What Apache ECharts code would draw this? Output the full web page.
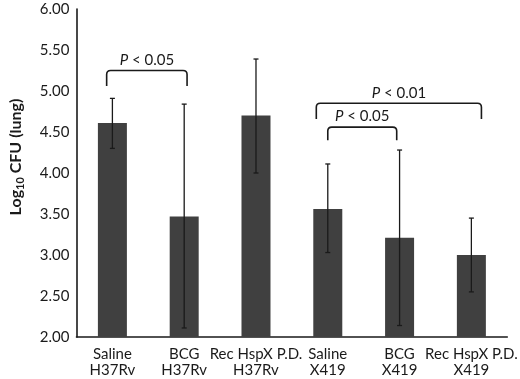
<!DOCTYPE html>
<html>
<head>
<meta charset="utf-8">
<script src="https://cdn.jsdelivr.net/npm/echarts@6/dist/echarts.min.js"></script>
<style>
  html,body{margin:0;padding:0;background:#fff;}
  #chart{width:520px;height:379px;}
</style>
</head>
<body>
<div id="chart"></div>
<script>
// groups and log10 CFU values
const categories = ["Saline\nH37Rv", "BCG\nH37Rv", "Rec HspX P.D.\nH37Rv", "Saline\nX419", "BCG\nX419", "Rec HspX P.D.\nX419"];
const means = [4.61, 3.47, 4.70, 3.56, 3.21, 3.00];
const errLow = [4.30, 2.11, 4.00, 3.03, 2.14, 2.55];
const errHigh = [4.91, 4.84, 5.39, 4.11, 4.28, 3.45];
const yTicks = {min: 2, max: 6, interval: 0.5};

// significance brackets: from / to in category units, top and leg end in y units
const bracketFrom = [-0.08, 2.84, 3.0];
const bracketTo = [1.04, 5.14, 3.96];
const bracketTop = [5.25, 4.85, 4.56];
const bracketLeg = [5.06, 4.66, 4.40];
const bracketText = ["0.05", "0.01", "0.05"];

const font = "Lato, 'Open Sans', sans-serif";
const ink = "#1a1a1a";

const chart = echarts.init(document.getElementById("chart"));

function errorItem(params, api){
  const x = api.value(0);
  const lo = api.coord([x, api.value(1)]);
  const hi = api.coord([x, api.value(2)]);
  const cap = 2.5;
  const st = {stroke: ink, lineWidth: 1.3, fill: null};
  return {
    type: "group",
    children: [
      {type: "line", shape: {x1: lo[0], y1: lo[1], x2: hi[0], y2: hi[1]}, style: st},
      {type: "line", shape: {x1: hi[0]-cap, y1: hi[1], x2: hi[0]+cap, y2: hi[1]}, style: st},
      {type: "line", shape: {x1: lo[0]-cap, y1: lo[1], x2: lo[0]+cap, y2: lo[1]}, style: st}
    ]
  };
}

function bracketItem(params, api){
  const band = api.size([1, 0])[0];
  const a = api.value(0), b = api.value(1);
  const ia = Math.round(a), ib = Math.round(b);
  const xa = api.coord([ia, 0])[0] + (a - ia) * band;
  const xb = api.coord([ib, 0])[0] + (b - ib) * band;
  const yt = api.coord([0, api.value(2)])[1];
  const yl = api.coord([0, api.value(3)])[1];
  const r = 4;
  const d = "M" + xa + " " + yl + " L" + xa + " " + (yt + r) + " Q" + xa + " " + yt + " " + (xa + r) + " " + yt +
    " L" + (xb - r) + " " + yt + " Q" + xb + " " + yt + " " + xb + " " + (yt + r) + " L" + xb + " " + yl;
  return {
    type: "group",
    children: [
      {type: "path", shape: {pathData: d}, style: {stroke: ink, lineWidth: 1.6, fill: null}},
      {type: "text", x: (xa + xb) / 2, y: yt - 3, style: {
        text: "{i|P} < " + bracketText[params.dataIndex],
        align: "center", verticalAlign: "bottom",
        fill: ink, font: "15px " + font,
        rich: {i: {fontStyle: "italic", fontSize: 15, fontFamily: font, fill: ink}}
      }}
    ]
  };
}

chart.setOption({
  animation: false,
  grid: {left: 73, right: 8, top: 9, bottom: 42},
  xAxis: {
    type: "category",
    data: categories,
    axisTick: {show: false},
    axisLine: {lineStyle: {color: ink, width: 1.6}},
    axisLabel: {interval: 0, color: ink, fontSize: 15, fontFamily: font, lineHeight: 16, margin: 9}
  },
  yAxis: {
    type: "value",
    min: yTicks.min, max: yTicks.max, interval: yTicks.interval,
    name: "{b|Log}{s|10}{b| CFU (lung)}",
    nameLocation: "middle",
    nameGap: 51,
    nameRotate: 90,
    nameTextStyle: {
      padding: [0, 0, 0, 32],
      rich: {
        b: {fontSize: 16, fontWeight: "bold", fontFamily: font, color: ink},
        s: {fontSize: 11, fontWeight: "bold", fontFamily: font, color: ink, padding: [8, 0, 0, 0]}
      }
    },
    axisLine: {show: true, lineStyle: {color: ink, width: 1.6}},
    axisTick: {show: false},
    splitLine: {show: false},
    axisLabel: {color: ink, fontSize: 15, fontFamily: font, margin: 7, formatter: v => v.toFixed(2)}
  },
  series: [
    {
      type: "bar",
      data: means,
      barWidth: 29,
      itemStyle: {color: "#404040"}
    },
    {
      type: "custom",
      renderItem: errorItem,
      data: categories.map((c, i) => [i, errLow[i], errHigh[i]]),
      z: 5
    },
    {
      type: "custom",
      renderItem: bracketItem,
      data: bracketFrom.map((f, i) => [f, bracketTo[i], bracketTop[i], bracketLeg[i]]),
      z: 6
    }
  ]
});
</script>
</body>
</html>
